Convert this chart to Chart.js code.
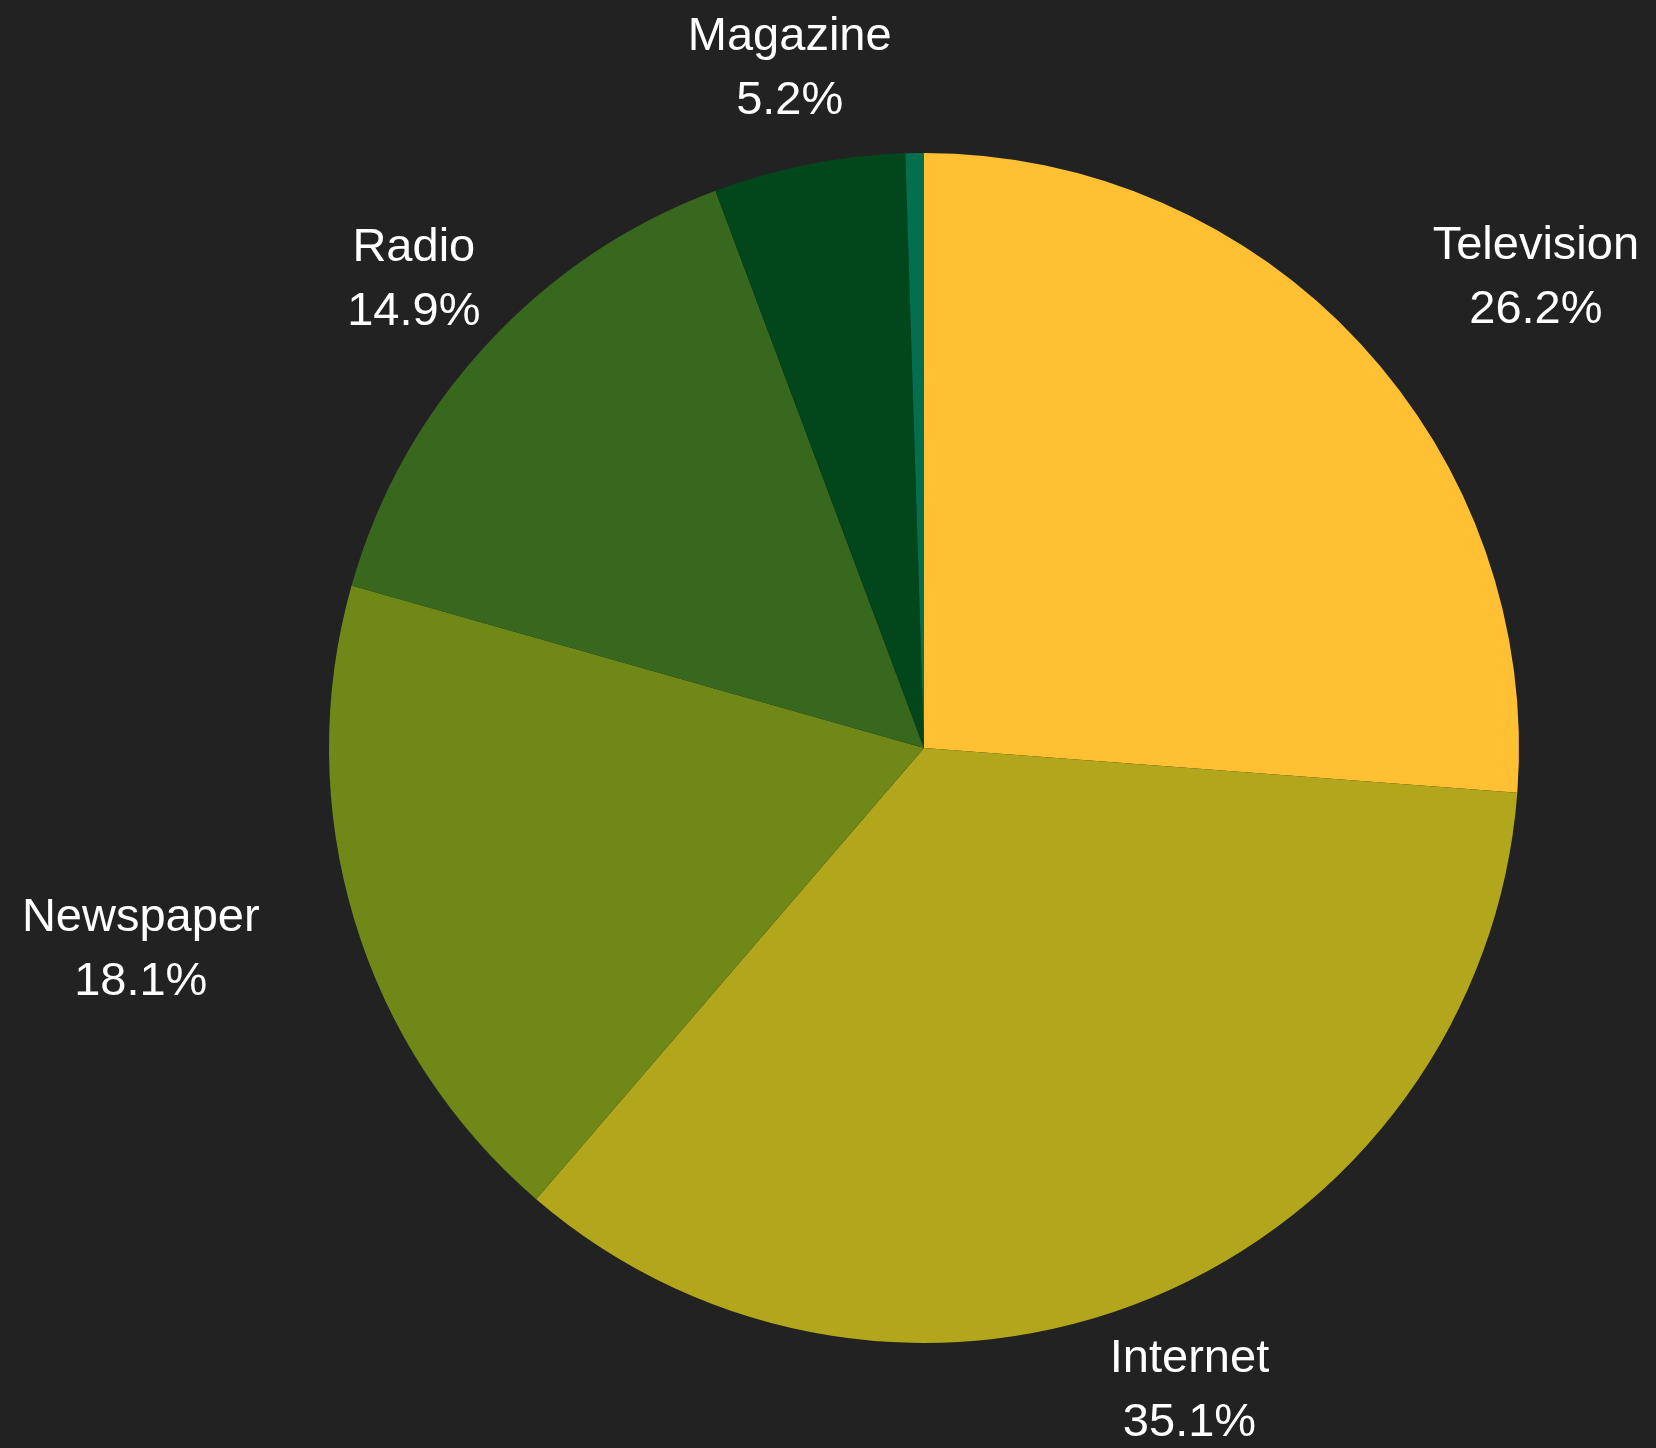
<!DOCTYPE html>
<html>
<head>
<meta charset="utf-8">
<script src="https://cdn.jsdelivr.net/npm/chart.js@4.4.1/dist/chart.umd.min.js"></script>
<style>
    html, body { margin: 0; padding: 0; background: #222222; }
    #wrap { width: 1656px; height: 1448px; }
</style>
</head>
<body>
<div id="wrap"><canvas id="pieChart" width="1656" height="1448"></canvas></div>
<script>
// Dane wykresu
const categories = ['Television', 'Internet', 'Newspaper', 'Radio', 'Magazine', 'Other'];
const shares = [26.2, 35.1, 18.1, 14.9, 5.2, 0.5];
const sliceColors = ['#FFC034', '#B2A71C', '#708818', '#37681D', '#02461C', '#046F4F'];

const fontSize = 47;
const lineHeight = 64;

// Etykiety na zewnątrz wycinków
const outsideLabels = {
    id: 'outsideLabels',
    afterDatasetsDraw(chart) {
        const ctx = chart.ctx;
        const meta = chart.getDatasetMeta(0);
        const total = shares.reduce((a, b) => a + b, 0);
        ctx.save();
        ctx.font = `${fontSize}px "Liberation Sans", Arial, sans-serif`;
        ctx.fillStyle = '#ffffff';
        ctx.textBaseline = 'middle';
        ctx.textAlign = 'center';

        meta.data.forEach((arc, i) => {
            const pct = shares[i] / total * 100;
            if (pct < 1) return; // za mały wycinek - bez etykiety

            const cx = arc.x, cy = arc.y, r = arc.outerRadius;
            const mid = (arc.startAngle + arc.endAngle) / 2;
            const ax = cx + Math.cos(mid) * r * 1.166;
            const ay = cy + Math.sin(mid) * r * 1.166 + 2;

            const lines = [categories[i], pct.toFixed(1) + '%'];
            const w = Math.max(...lines.map(l => ctx.measureText(l).width));
            const hh = lineHeight / 2 + fontSize / 2;

            // czy wyśrodkowana etykieta nachodzi na koło (narożnik od strony środka)
            let left = ax - w / 2;
            const px = cx > ax ? left + w : left;
            const py = cy > ay ? ay + hh : ay - hh;
            if (Math.hypot(px - cx, py - cy) < r) {
                left = ax > cx ? ax : ax - w;
            }

            const tx = left + w / 2;
            ctx.fillText(lines[0], tx, ay - lineHeight / 2);
            ctx.fillText(lines[1], tx, ay + lineHeight / 2);
        });
        ctx.restore();
    }
};

const ctx = document.getElementById('pieChart').getContext('2d');
const pieChart = new Chart(ctx, {
    type: 'pie',
    data: {
        labels: categories,
        datasets: [{
            data: shares,
            backgroundColor: sliceColors,
            borderWidth: 0
        }]
    },
    options: {
        responsive: false,
        animation: false,
        layout: {
            padding: { top: 153, bottom: 105, left: 329, right: 137 }
        },
        plugins: {
            legend: { display: false },
            tooltip: { enabled: false }
        }
    },
    plugins: [outsideLabels]
});
</script>
</body>
</html>
